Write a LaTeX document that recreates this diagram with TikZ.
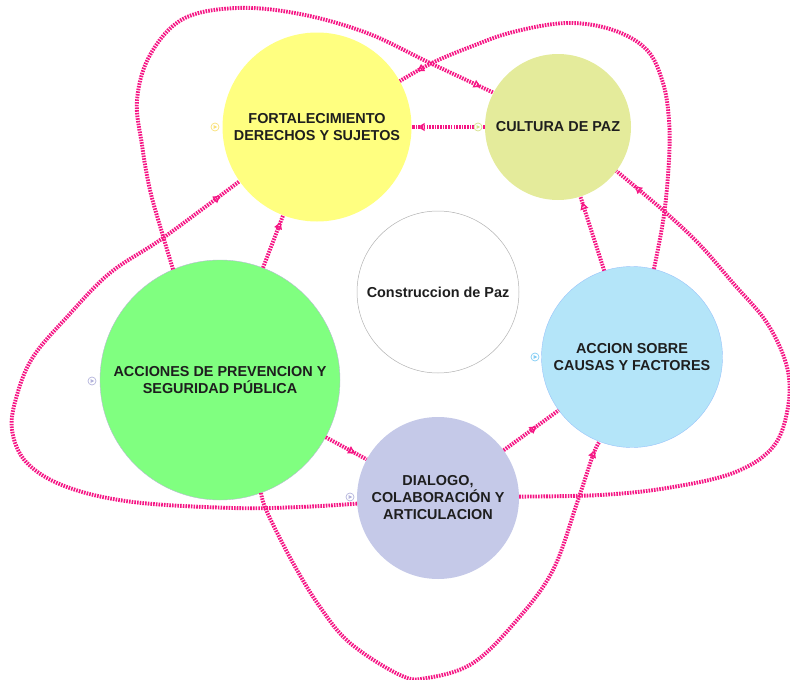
\documentclass[tikz,border=0pt]{standalone}
\usepackage{fontspec}
\setmainfont{Liberation Sans}
\usetikzlibrary{arrows.meta,decorations.markings}
\definecolor{linkc}{RGB}{245,22,132}
\definecolor{txt}{RGB}{30,30,30}
\definecolor{cyellow}{RGB}{255,255,128}
\definecolor{cculture}{RGB}{228,235,155}
\definecolor{cgreen}{RGB}{128,255,128}
\definecolor{cblue}{RGB}{180,229,249}
\definecolor{clav}{RGB}{197,201,232}
\definecolor{icyellow}{RGB}{250,225,120}
\definecolor{icculture}{RGB}{215,225,140}
\definecolor{iclav}{RGB}{180,180,220}
\definecolor{icblue}{RGB}{130,205,245}
\begin{document}
\begin{tikzpicture}[x=1pt,y=-1pt,
  bubble/.style={circle, inner sep=0pt, align=center, text=txt,
    font=\bfseries\fontsize{14.4}{17}\selectfont},
  link/.style={draw=linkc, line width=3.9pt, dash pattern=on 1.6pt off 1.1pt},
  arrowmark/.style={postaction={decorate,decoration={markings,
    mark=at position #1 with {\pgfsetdash{}{0pt}\arrow[linkc]{Triangle[open,length=7pt,width=8pt,line width=1.2pt]}}}}},
  icon/.style={circle, draw=#1, line width=0.7pt, minimum size=8pt, inner sep=0pt, fill=white}
]
\useasboundingbox (0,0) rectangle (790,680);

% bubbles
\node[bubble, fill=cyellow, minimum size=189pt] (fort) at (317,127) {FORTALECIMIENTO\\DERECHOS Y SUJETOS};
\node[bubble, fill=cculture, minimum size=146pt] (cult) at (558,127) {CULTURA DE PAZ};
\node[bubble, fill=white, draw=black!30, line width=0.5pt, minimum size=162pt] (cons) at (438,292) {Construccion de Paz};
\node[bubble, fill=cblue, draw=cblue!85!blue, line width=0.4pt, minimum size=181pt] (acc) at (632,357) {ACCION SOBRE\\CAUSAS Y FACTORES};
\node[bubble, fill=cgreen, draw=clav!80!gray, line width=0.4pt, minimum size=240pt] (prev) at (220,380) {ACCIONES DE PREVENCION Y\\SEGURIDAD PÚBLICA};
\node[bubble, fill=clav, minimum size=162pt] (dial) at (438,498) {DIALOGO,\\COLABORACIÓN Y\\ARTICULACION};

% straight links
\draw[link, arrowmark=-6pt] (cult) -- (fort);
\draw[link, arrowmark=-6pt] (acc) -- (cult);
\draw[link, arrowmark=-7pt] (prev) -- (fort);
\draw[link, arrowmark=0.72] (prev) -- (dial);
\draw[link, arrowmark=0.6] (dial) -- (acc);

% curved links
\draw[link, arrowmark=-14pt] plot[smooth, tension=0.6] coordinates {(prev.113) (163,236) (150,190) (142,145) (137,100) (150,55) (183,19) (237,8) (300,14) (367,33) (430,63) (cult.152)};
\draw[link, arrowmark=-20pt] plot[smooth, tension=0.6] coordinates {(acc.76) (664,215) (669,160) (669,120) (663,83) (647,50) (613,30) (567,23) (513,32) (470,47) (432,63) (fort.29)};
\draw[link, arrowmark=-24pt] plot[smooth, tension=0.6] coordinates {(dial.184) (300,507) (233,508) (133,502) (67,487) (27,463) (12,430) (17,395) (33,357) (67,317) (110,273) (163,238) (fort.215)};
\draw[link, arrowmark=-24pt] plot[smooth, tension=0.6] coordinates {(dial.1) (600,495) (667,488) (733,473) (773,447) (788,407) (787,367) (767,323) (733,283) (700,245) (665,212) (cult.-37)};
\draw[link, arrowmark=-10pt] plot[smooth, tension=0.6] coordinates {(prev.-70) (267,512) (293,563) (320,607) (350,643) (400,675) (427,678) (473,663) (517,620) (553,570) (577,503) (593,455) (acc.-111)};

% small icons
\node[icon=icyellow] (ic1) at (215,127) {};
\fill[icyellow] (213.5,125) -- (213.5,129) -- (217.2,127) -- cycle;
\node[icon=icculture] (ic2) at (478,127) {};
\fill[icculture] (476.5,125) -- (476.5,129) -- (480.2,127) -- cycle;
\node[icon=iclav] (ic3) at (92,381) {};
\fill[iclav] (90.5,379) -- (90.5,383) -- (94.2,381) -- cycle;
\node[icon=iclav] (ic4) at (350,497) {};
\fill[iclav] (348.5,495) -- (348.5,499) -- (352.2,497) -- cycle;
\node[icon=icblue] (ic5) at (535,357) {};
\fill[icblue] (533.5,355) -- (533.5,359) -- (537.2,357) -- cycle;
\end{tikzpicture}
\end{document}
